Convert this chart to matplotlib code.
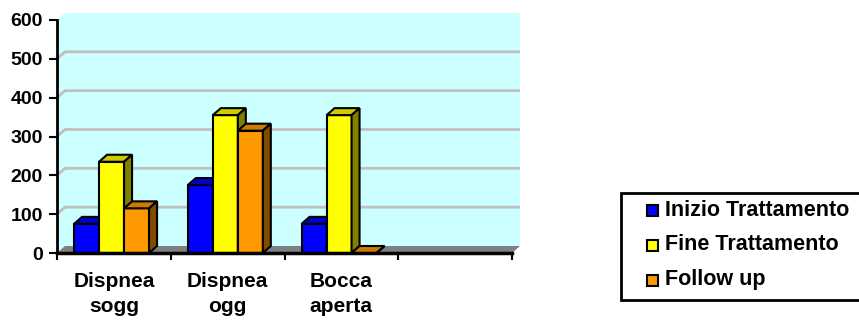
import matplotlib.pyplot as plt
from matplotlib.patches import Polygon, Rectangle

categories = ["Dispnea\nsogg", "Dispnea\nogg", "Bocca\naperta", ""]
series = ["Inizio Trattamento", "Fine Trattamento", "Follow up"]
inizio = [75, 175, 75, 0]
fine = [235, 355, 355, 0]
follow = [115, 315, 0, 0]
values = [inizio, fine, follow]

# front, top, side colours per series
colors = [("#0000FF", "#0000CC", "#000080"),
          ("#FFFF00", "#CCCC00", "#808000"),
          ("#FF9900", "#CC7A00", "#804C00")]

plt.rcParams['font.family'] = ['Liberation Sans', 'DejaVu Sans']
plt.rcParams['font.weight'] = 'bold'

W, H = 859, 320
fig = plt.figure(figsize=(W / 100, H / 100), dpi=100)
ax = fig.add_axes([57 / W, (H - 253) / H, 455 / W, 233 / H])
ax.set_xlim(0, 4)
ax.set_ylim(0, 600)
ax.patch.set_alpha(0)

# depth offset in data units
dx = 8 / (455 / 4)
dy = 7 / (233 / 600)

# walls
wall = Polygon([(0, 0), (0, 600), (dx, 600 + dy), (4 + dx, 600 + dy), (4 + dx, dy), (4, 0)],
               closed=True, facecolor="#CCFFFF", edgecolor="none", clip_on=False, zorder=0)
ax.add_patch(wall)
for v in range(100, 600, 100):
    ax.plot([0, dx, 4 + dx], [v, v + dy, v + dy], color="#C0C0C0", lw=2,
            clip_on=False, zorder=1, solid_capstyle="butt")
floor = Polygon([(0, 0), (4, 0), (4 + dx, dy), (dx, dy)], closed=True,
                facecolor="#808080", edgecolor="none", clip_on=False, zorder=1)
ax.add_patch(floor)

# bars
bw = 25 / (455 / 4)
start = 0.15
z = 2
for i in range(len(categories)):
    for s in range(len(series)):
        v = values[s][i]
        if i == 3:
            continue
        x0 = i + start + s * bw
        front, top, side = colors[s]
        ax.add_patch(Rectangle((x0, 0), bw, v, facecolor=front, edgecolor="black",
                               lw=1.5, clip_on=False, zorder=z))
        ax.add_patch(Polygon([(x0, v), (x0 + dx, v + dy), (x0 + bw + dx, v + dy), (x0 + bw, v)],
                             closed=True, facecolor=top, edgecolor="black", lw=1.5,
                             clip_on=False, zorder=z))
        ax.add_patch(Polygon([(x0 + bw, 0), (x0 + bw + dx, dy), (x0 + bw + dx, v + dy), (x0 + bw, v)],
                             closed=True, facecolor=side, edgecolor="black", lw=1.5,
                             clip_on=False, zorder=z))
        z += 1

# axes
for sp in ["top", "right"]:
    ax.spines[sp].set_visible(False)
ax.spines["left"].set_linewidth(2)
ax.spines["bottom"].set_linewidth(2.5)
ax.spines["left"].set_zorder(50)
ax.spines["bottom"].set_zorder(50)
ax.set_yticks(range(0, 601, 100))
ax.tick_params(axis="y", length=6, width=1.5, labelsize=14, pad=4)
ax.set_xticks([0, 1, 2, 3, 4])
ax.set_xticklabels([])
ax.tick_params(axis="x", which="major", length=5, width=1.5)
ax.set_xticks([0.5, 1.5, 2.5, 3.5], minor=True)
ax.set_xticklabels(categories, minor=True, fontsize=15, linespacing=1.35)
ax.tick_params(axis="x", which="minor", length=0, pad=14)

# legend
fig.add_artist(Rectangle((621 / W, (H - 300) / H), 245 / W, 107 / H, transform=fig.transFigure,
                         facecolor="white", edgecolor="black", lw=2))
for k, name in enumerate(series):
    yc = 210 + 35 * k
    fig.add_artist(Rectangle((647 / W, (H - yc - 5.5) / H), 11 / W, 11 / H, transform=fig.transFigure,
                             facecolor=colors[k][0], edgecolor="black", lw=1.5))
    fig.text(665 / W, (H - yc) / H, name, fontsize=15.5, va="center", ha="left")

fig.savefig("out.png", dpi=100)
